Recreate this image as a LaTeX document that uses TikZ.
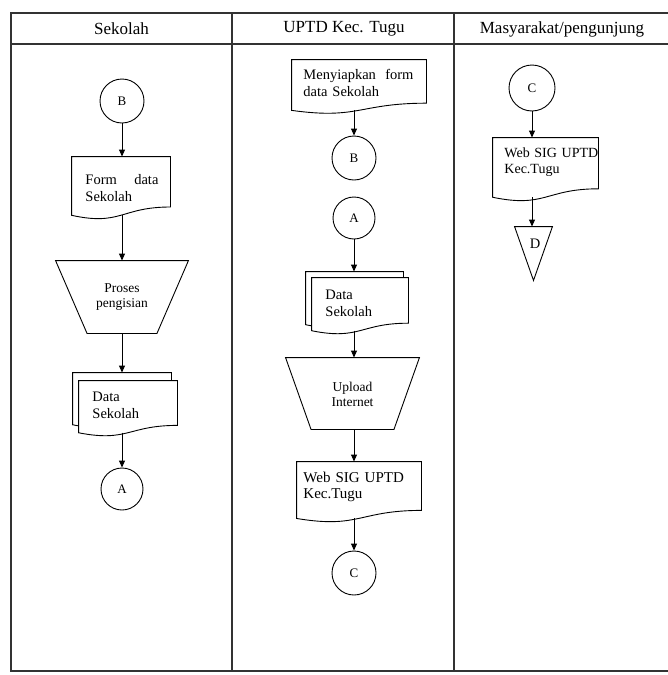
\documentclass[tikz,border=0pt]{standalone}
\usepackage{fontspec}
\setmainfont{Liberation Serif}
\usetikzlibrary{calc,arrows.meta}
\newcommand{\docpath}[1]{%
  \draw[fill=white] (#1.north west) -- (#1.north east) -- ($(#1.north east)!0.802!(#1.south east)$) .. controls ($(#1.north)!0.802!(#1.south)$) and ($(#1.north)!1.107!(#1.south)$) .. ($(#1.north west)!0.934!(#1.south west)$) -- cycle;
  \coordinate (#1-b) at ($(#1.north)!0.933!(#1.south)$);}
\begin{document}
\begin{tikzpicture}[x=1pt,y=-1pt,
  line width=0.9pt,
  arr/.style={-{Triangle[length=7pt,width=6pt]}, line width=0.9pt},
  tbl/.style={line width=1.4pt, draw=black!80},
  circ/.style={circle, draw, minimum size=44pt, inner sep=0pt, font=\fontsize{13}{15}\selectfont},
  box/.style={inner sep=0pt, draw=none},
  txt/.style={inner sep=0pt, font=\fontsize{14.5}{17}\selectfont, align=left},
  ctxt/.style={inner sep=0pt, font=\fontsize{13.5}{15}\selectfont, align=center, text width=90pt},
  hdr/.style={inner sep=0pt, font=\fontsize{17}{20}\selectfont}
]
\useasboundingbox (0,0) rectangle (668,675);
% table
\draw[tbl] (668,13) -- (11,13) -- (11,671) -- (668,671);
\draw[tbl] (11,44) -- (668,44);
\draw[tbl] (232,13) -- (232,671);
\draw[tbl] (454,13) -- (454,671);
\node[hdr] (h1) at (121.5,29) {Sekolah};
\node[hdr] (h2) at (344,29) {UPTD Kec. Tugu};
\node[hdr] (h3) at (562,29) {Masyarakat/pengunjung};

% left column
\node[circ] (b1) at (122,101) {B};
\node[box, minimum width=98pt, minimum height=62pt] (f1) at (121,188) {};
\docpath{f1}
\node[txt, text width=73pt, anchor=base west] (f1t) at (85,184) {Form\hfill data\\Sekolah};
\node[box, minimum width=132pt, minimum height=72pt] (p1) at (122,297) {};
\draw (p1.north west) -- (p1.north east) -- ($(p1.south east)+(-31.5,0)$) -- ($(p1.south west)+(31.5,0)$) -- cycle;
\node[ctxt, anchor=base] (p1t) at (122,292) {Proses\\pengisian};
\node[box, minimum width=98pt, minimum height=55pt] (m1b) at (122,400.5) {};
\docpath{m1b}
\node[box, minimum width=98pt, minimum height=55pt] (m1) at (128,408.5) {};
\docpath{m1}
\node[txt, text width=80pt, anchor=base west] (m1t) at (92,401) {Data\\Sekolah};
\node[circ, minimum size=42pt] (a1) at (122,489) {A};
\draw[arr] (b1.south) -- (b1.south |- f1.north);
\draw[arr] (f1-b -| p1.north) -- (p1.north);
\draw[arr] (p1.south) -- (p1.south |- m1b.north);
\draw[arr] (a1 |- m1-b) -- (a1.north);

% middle column
\node[box, minimum width=134pt, minimum height=53.5pt] (mf) at (359,86.75) {};
\docpath{mf}
\node[txt, text width=110pt, anchor=base west] (mft) at (303,79) {Menyiapkan\hfill form\\data Sekolah};
\node[circ] (b2) at (354,158) {B};
\draw[arr] (b2 |- mf-b) -- (b2.north);
\node[circ, minimum size=42pt] (a2) at (354,218) {A};
\node[box, minimum width=97pt, minimum height=56pt] (m2b) at (354.5,300) {};
\docpath{m2b}
\node[box, minimum width=96pt, minimum height=56pt] (m2) at (360,306) {};
\docpath{m2}
\node[txt, text width=80pt, anchor=base west] (m2t) at (325,299) {Data\\Sekolah};
\draw[arr] (a2.south) -- (a2.south |- m2b.north);
\node[box, minimum width=133pt, minimum height=71pt] (p2) at (352.5,393.5) {};
\draw (p2.north west) -- (p2.north east) -- ($(p2.south east)+(-25.5,0)$) -- ($(p2.south west)+(25.5,0)$) -- cycle;
\node[ctxt, anchor=base] (p2t) at (352.5,391) {Upload\\Internet};
\draw[arr] (b2 |- m2-b) -- (b2 |- p2.north);
\node[box, minimum width=124pt, minimum height=60pt] (w2) at (359,492) {};
\docpath{w2}
\node[txt, font=\fontsize{15}{16.5}\selectfont, text width=115pt, anchor=base west] (w2t) at (303,482) {Web SIG UPTD\\Kec.Tugu};
\draw[arr] (b2 |- p2.south) -- (b2 |- w2.north);
\node[circ] (c2) at (354,573) {C};
\draw[arr] (c2 |- w2-b) -- (c2.north);

% right column
\node[circ, minimum size=46pt] (c3) at (532,88) {C};
\node[box, minimum width=105pt, minimum height=63pt] (w3) at (545.5,169.5) {};
\docpath{w3}
\node[txt, font=\fontsize{14}{16.5}\selectfont, text width=100pt, anchor=base west] (w3t) at (504,157) {Web SIG UPTD\\Kec.Tugu};
\draw[arr] (c3.south) -- (c3 |- w3.north);
\node[box, minimum width=37pt, minimum height=53pt] (tri) at (533.5,253.5) {};
\draw (tri.north west) -- (tri.north east) -- (tri.south) -- cycle;
\node[inner sep=0pt, font=\fontsize{14.5}{17}\selectfont] (dl) at (535,244) {D};
\draw[arr] (c3 |- w3-b) -- (c3 |- tri.north);
\end{tikzpicture}
\end{document}
